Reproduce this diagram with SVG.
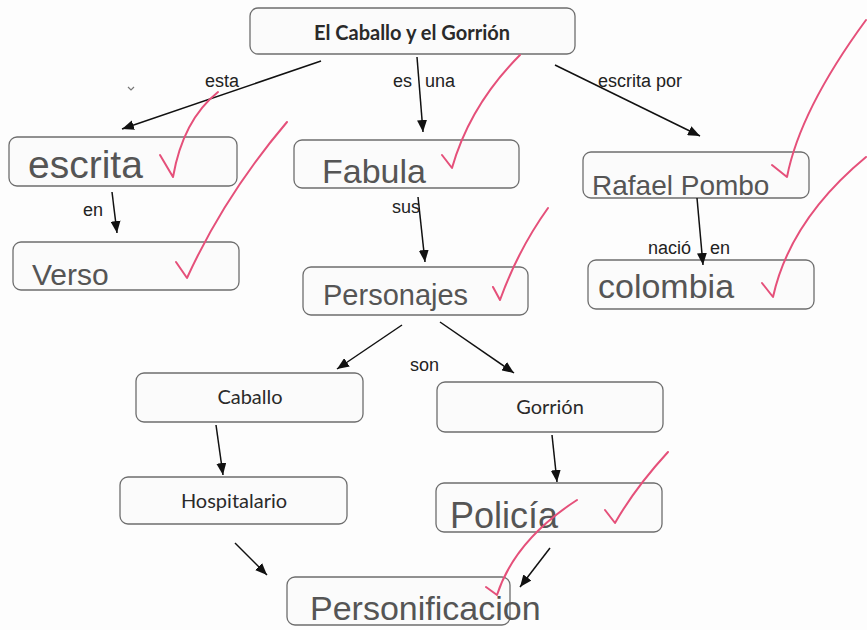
<svg xmlns="http://www.w3.org/2000/svg" width="867" height="630" viewBox="0 0 867 630">
<defs>
<marker id="ah" viewBox="0 0 12 10" refX="12" refY="5" markerWidth="12" markerHeight="10" markerUnits="userSpaceOnUse" orient="auto"><path d="M0,0 L12,5 L0,10 z" fill="#111"/></marker>
<style>
.box{fill:#fbfbfb;stroke:#6e6e6e;stroke-width:1.3}
.pr{font-family:"Lato","Open Sans","Liberation Sans",sans-serif;fill:#2a2a2a;text-anchor:middle}
.lbl{font-family:"Liberation Sans",Arial,sans-serif;font-size:18px;fill:#222}
.hw{font-family:"Liberation Sans",Arial,sans-serif;fill:#555}
.edge{stroke:#111;stroke-width:1.5;fill:none;marker-end:url(#ah)}
.chk{stroke:#e5507a;stroke-width:2;fill:none;stroke-linecap:round;stroke-linejoin:round}
</style>
</defs>
<rect width="867" height="630" fill="#fdfdfd"/>

<g id="title">
<rect class="box" x="250" y="8" width="325" height="46" rx="8"/>
<text class="pr" x="412" y="40" font-size="20" font-weight="700">El Caballo y el Gorrión</text>
</g>
<g id="escrita">
<rect class="box" x="9" y="137" width="228" height="49" rx="8"/>
<text class="hw" x="28" y="178" font-size="39">escrita</text>
</g>
<g id="verso">
<rect class="box" x="13" y="242" width="226" height="48" rx="8"/>
<text class="hw" x="32" y="285" font-size="30">Verso</text>
</g>
<g id="fabula">
<rect class="box" x="294" y="140" width="225" height="48" rx="8"/>
<text class="hw" x="322" y="183" font-size="34">Fabula</text>
</g>
<g id="personajes">
<rect class="box" x="303" y="267" width="225" height="48" rx="8"/>
<text class="hw" x="323" y="305" font-size="29">Personajes</text>
</g>
<g id="rafael">
<rect class="box" x="583" y="152" width="226" height="46" rx="8"/>
<text class="hw" x="592" y="195" font-size="28">Rafael Pombo</text>
</g>
<g id="colombia">
<rect class="box" x="588" y="260" width="226" height="49" rx="8"/>
<text class="hw" x="598" y="298" font-size="34">colombia</text>
</g>
<g id="caballo">
<rect class="box" x="136" y="373" width="227" height="49" rx="8"/>
<text class="pr" x="250" y="404" font-size="20">Caballo</text>
</g>
<g id="gorrion">
<rect class="box" x="437" y="382" width="226" height="50" rx="8"/>
<text class="pr" x="550" y="414" font-size="20">Gorrión</text>
</g>
<g id="hospitalario">
<rect class="box" x="120" y="477" width="227" height="47" rx="8"/>
<text class="pr" x="234" y="508" font-size="20">Hospitalario</text>
</g>
<g id="policia">
<rect class="box" x="436" y="483" width="226" height="49" rx="8"/>
<text class="hw" x="450" y="528" font-size="36">Policía</text>
</g>
<g id="personificacion">
<rect class="box" x="287" y="577" width="223" height="48" rx="8"/>
<text class="hw" x="310" y="620" font-size="34">Personificacion</text>
</g>

<g id="connectors">
<path class="edge" d="M321,61 L122,129"/>
<path class="edge" d="M417,57 L423,132"/>
<path class="edge" d="M555,65 L700,136"/>
<path class="edge" d="M112,192 L117,233"/>
<path class="edge" d="M418,197 L425,262"/>
<path class="edge" d="M697,198 L703,265"/>
<path class="edge" d="M402,325 L337,369"/>
<path class="edge" d="M440,322 L514,373"/>
<path class="edge" d="M216,425 L223,475"/>
<path class="edge" d="M552,435 L557,482"/>
<path class="edge" d="M235,543 L267,575"/>
<path class="edge" d="M550,548 L520,587"/>
<text class="lbl" x="205" y="87">esta</text>
<text class="lbl" x="393" y="87">es</text>
<text class="lbl" x="425" y="87">una</text>
<text class="lbl" x="598" y="87">escrita por</text>
<text class="lbl" x="83" y="216">en</text>
<text class="lbl" x="392" y="213">sus</text>
<text class="lbl" x="648" y="254">nació</text>
<text class="lbl" x="710" y="254">en</text>
<text class="lbl" x="410" y="371">son</text>
</g>

<g id="marks">
<path d="M128,87 L131,90 L134,87" stroke="#777" stroke-width="1.2" fill="none"/>
<path class="chk" d="M160,155 L173,177 Q183,120 218,92"/>
<path class="chk" d="M176,262 L187,278 Q225,195 287,122"/>
<path class="chk" d="M442,155 L452,168 Q470,105 520,55"/>
<path class="chk" d="M493,287 L500,300 Q518,250 548,208"/>
<path class="chk" d="M772,165 L787,177 Q800,110 866,20"/>
<path class="chk" d="M762,283 L773,297 Q790,220 866,157"/>
<path class="chk" d="M605,510 L615,523 Q635,488 668,452"/>
<path class="chk" d="M486,587 L497,595 Q515,540 577,500"/>
</g>
</svg>
